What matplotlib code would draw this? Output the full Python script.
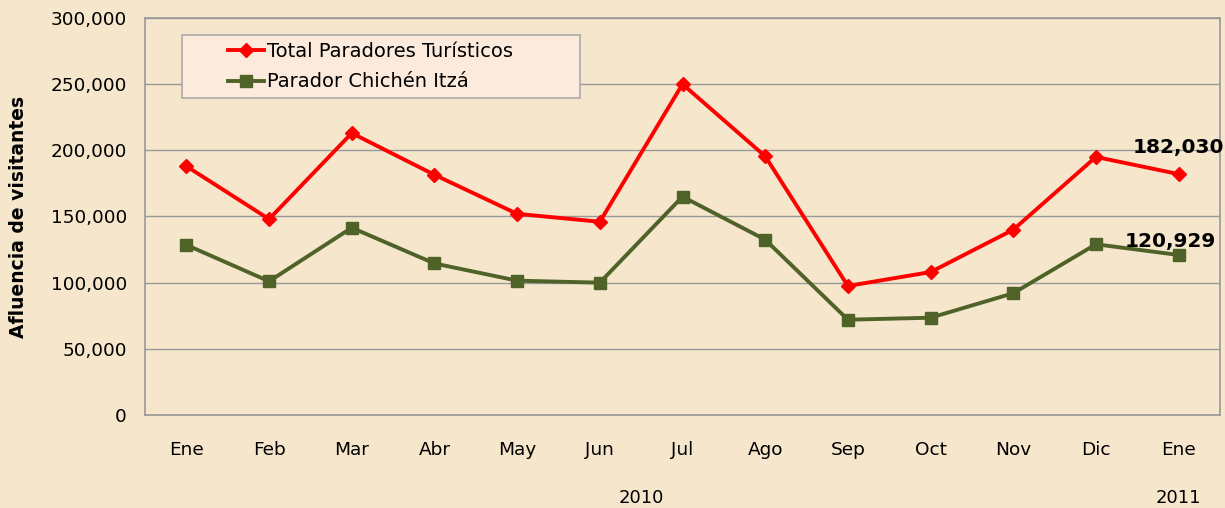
import numpy as np
import matplotlib.pyplot as plt
from matplotlib.ticker import FuncFormatter
from matplotlib.patches import Rectangle

plt.rcParams['font.family'] = ['DejaVu Sans']

# data
months = ['Ene', 'Feb', 'Mar', 'Abr', 'May', 'Jun', 'Jul', 'Ago', 'Sep', 'Oct', 'Nov', 'Dic', 'Ene']
total = [188000, 148000, 213000, 181500, 152000, 146000, 250000, 195500, 97500, 108000, 140000, 195000, 182030]
chichen = [128500, 101000, 141500, 114500, 101500, 100000, 165000, 132500, 72000, 73500, 92000, 129000, 120929]
years = ['2010', '2011']

bg = '#f6e6cc'
fig = plt.figure(figsize=(12.25, 5.08), dpi=100, facecolor=bg)
ax = fig.add_axes([0.1184, 0.1831, 0.8775, 0.7815])
ax.set_facecolor('none')

x = np.arange(len(months))
ax.plot(x, total, color='#ff0000', lw=2.8, marker='D', ms=7, label='Total Paradores Turísticos')
ax.plot(x, chichen, color='#4f6228', lw=2.8, marker='s', ms=9, label='Parador Chichén Itzá')

ax.set_xlim(-0.5, len(months) - 0.5)
ax.set_ylim(0, 300000)
ax.set_yticks(np.arange(0, 300001, 50000))
ax.yaxis.set_major_formatter(FuncFormatter(lambda v, p: f'{int(v):,}'))
ax.set_xticks(x)
ax.set_xticklabels(months)
ax.tick_params(axis='both', length=0, labelsize=13.3, colors='black')
ax.tick_params(axis='x', pad=19)
ax.tick_params(axis='y', pad=13)
ax.grid(axis='y', color='#999999', lw=1)
ax.set_axisbelow(True)
for s in ax.spines.values():
    s.set_color('#999999')
    s.set_linewidth(1.2)

ax.set_ylabel('Afluencia de visitantes', fontsize=13.5, fontweight='bold', labelpad=16)

# year labels under the months
ax.text(5.5, -0.209, years[0], transform=ax.get_xaxis_transform(), ha='center', va='center', fontsize=13)
ax.text(12, -0.209, years[1], transform=ax.get_xaxis_transform(), ha='center', va='center', fontsize=13)

ax.annotate(f'{total[-1]:,}', (12, total[-1]), xytext=(0, 19), textcoords='offset points',
            ha='center', va='center', fontsize=14.5, fontweight='bold')
ax.annotate(f'{chichen[-1]:,}', (12, chichen[-1]), xytext=(-6, 10), textcoords='offset points',
            ha='center', va='center', fontsize=14.5, fontweight='bold')

# legend box like the Excel one
ax.add_patch(Rectangle((0.0344, 0.798), 0.3703, 0.159, transform=ax.transAxes,
                       facecolor='#fcebdd', edgecolor='#aaaaaa', lw=1.2, zorder=4))
leg = ax.legend(loc='upper left', bbox_to_anchor=(0.070, 0.960), fontsize=14, frameon=False,
                handlelength=1.85, handletextpad=0.15, borderaxespad=0, labelspacing=0.6)
leg.set_zorder(5)

fig.savefig('out.png', dpi=100, facecolor=bg)
